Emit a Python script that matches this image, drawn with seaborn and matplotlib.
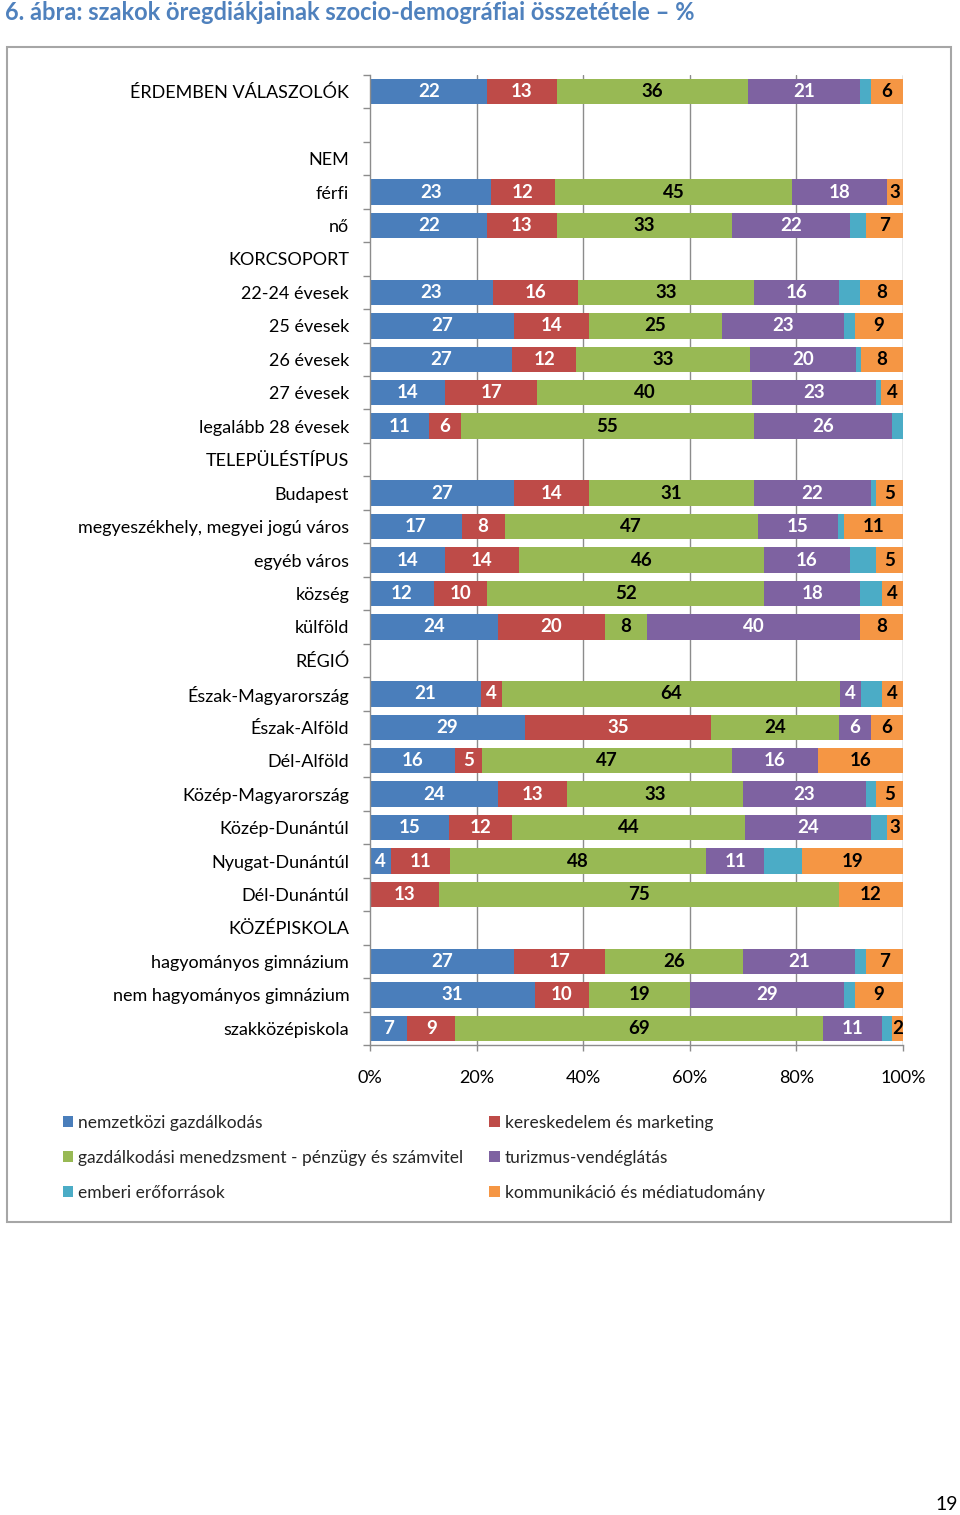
import matplotlib
matplotlib.use("Agg")
import matplotlib.pyplot as plt
import seaborn as sns
import pandas as pd
import numpy as np
from matplotlib.patches import Rectangle, Patch

# row labels (header rows have no data)
categories = ["ÉRDEMBEN VÁLASZOLÓK", " ", "NEM", "férfi", "nő", "KORCSOPORT",
              "22-24 évesek", "25 évesek", "26 évesek", "27 évesek", "legalább 28 évesek",
              "TELEPÜLÉSTÍPUS", "Budapest", "megyeszékhely, megyei jogú város",
              "egyéb város", "község", "külföld", "RÉGIÓ", "Észak-Magyarország",
              "Észak-Alföld", "Dél-Alföld", "Közép-Magyarország", "Közép-Dunántúl",
              "Nyugat-Dunántúl", "Dél-Dunántúl", "KÖZÉPISKOLA", "hagyományos gimnázium",
              "nem hagyományos gimnázium", "szakközépiskola"]

nemzetkozi = [22, 0, 0, 23, 22, 0, 23, 27, 27, 14, 11, 0, 27, 17, 14, 12, 24, 0,
              21, 29, 16, 24, 15, 4, 0, 0, 27, 31, 7]
kereskedelem = [13, 0, 0, 12, 13, 0, 16, 14, 12, 17, 6, 0, 14, 8, 14, 10, 20, 0,
                4, 35, 5, 13, 12, 11, 13, 0, 17, 10, 9]
gazdalkodasi = [36, 0, 0, 45, 33, 0, 33, 25, 33, 40, 55, 0, 31, 47, 46, 52, 8, 0,
                64, 24, 47, 33, 44, 48, 75, 0, 26, 19, 69]
turizmus = [21, 0, 0, 18, 22, 0, 16, 23, 20, 23, 26, 0, 22, 15, 16, 18, 40, 0,
            4, 6, 16, 23, 24, 11, 0, 0, 21, 29, 11]
emberi = [2, 0, 0, 0, 3, 0, 4, 2, 1, 1, 2, 0, 1, 1, 5, 4, 0, 0,
          4, 0, 0, 2, 3, 7, 0, 0, 2, 2, 2]
kommunikacio = [6, 0, 0, 3, 7, 0, 8, 9, 8, 4, 0, 0, 5, 11, 5, 4, 8, 0,
                4, 6, 16, 5, 3, 19, 12, 0, 7, 9, 2]

series_names = ["nemzetközi gazdálkodás", "kereskedelem és marketing",
                "gazdálkodási menedzsment - pénzügy és számvitel", "turizmus-vendéglátás",
                "emberi erőforrások", "kommunikáció és médiatudomány"]
colors = ["#4A7EBB", "#BE4B48", "#98B954", "#7E62A1", "#4BACC6", "#F59644"]
text_colors = ["white", "white", "black", "white", None, "black"]

df = pd.DataFrame({"kategoria": categories,
                   series_names[0]: nemzetkozi, series_names[1]: kereskedelem,
                   series_names[2]: gazdalkodasi, series_names[3]: turizmus,
                   series_names[4]: emberi, series_names[5]: kommunikacio})

vals = df[series_names].to_numpy(dtype=float)
tot = vals.sum(axis=1, keepdims=True)
norm = np.divide(vals, tot, out=np.zeros_like(vals), where=tot > 0) * 100
cum = norm.cumsum(axis=1)

sns.set_theme(style="white")
plt.rcParams['font.family'] = ['Lato', 'DejaVu Sans']

fig = plt.figure(figsize=(9.6, 15.15), dpi=100)
ax = fig.add_axes([370/960, 1-1045/1515, 533/960, 970/1515])

# stacked bars: draw cumulative totals from the last series backwards
for i in range(len(series_names) - 1, -1, -1):
    sns.barplot(x=cum[:, i], y=df["kategoria"], order=categories, color=colors[i],
                saturation=1, width=0.76, errorbar=None, linewidth=0, orient="h", ax=ax)
for p in ax.patches:
    p.set_zorder(2)

# vertical gridlines behind the bars
for t in range(20, 101, 20):
    ax.axvline(t, color="#8c8c8c", linewidth=1, zorder=0.5)

for r in range(len(categories)):
    for i in range(len(series_names)):
        v = vals[r, i]
        if v > 0 and text_colors[i] is not None:
            ax.text(cum[r, i] - norm[r, i] / 2, r, f"{int(v)}", ha="center", va="center",
                    color=text_colors[i], fontsize=13.5, fontweight="bold", zorder=3)

ax.set_xlim(0, 100)
ax.set_ylim(len(categories) - 0.5, -0.5)
ax.set_xlabel("")
ax.set_ylabel("")
ax.grid(False)
ax.set_xticks(range(0, 101, 20))
ax.set_xticklabels([f"{t}%" for t in range(0, 101, 20)])
ax.set_yticks(range(len(categories)))
ax.set_yticklabels(categories)
ax.set_yticks(np.arange(-0.5, len(categories), 1), minor=True)
ax.tick_params(axis="y", which="major", length=0, pad=15, labelsize=13, labelcolor="black")
ax.tick_params(axis="y", which="minor", left=True, length=5, width=1, color="#8c8c8c", direction="out")
ax.tick_params(axis="x", bottom=True, length=4, width=1, color="#8c8c8c", direction="out",
               pad=14, labelsize=13, labelcolor="black")
for s in ["top", "right"]:
    ax.spines[s].set_visible(False)
for s in ["left", "bottom"]:
    ax.spines[s].set_color("#8c8c8c")
    ax.spines[s].set_linewidth(1)

# legend, column-major order to match the two-column layout
order = [0, 2, 4, 1, 3, 5]
handles = [Patch(facecolor=colors[i], edgecolor="none") for i in order]
labels = [series_names[i] for i in order]
fig.legend(handles, labels, ncol=2, loc="upper left", bbox_to_anchor=(47/960, 1-1099/1515),
           frameon=False, fontsize=12.5, handlelength=0.6, handleheight=0.6,
           handletextpad=0.3, columnspacing=1.5, labelspacing=1.1)

fig.add_artist(Rectangle((7/960, 1-1222/1515), 944/960, 1175/1515, transform=fig.transFigure,
                         fill=False, edgecolor="#a6a6a6", linewidth=1.5))
fig.text(5/960, 1-13/1515, "6. ábra: szakok öregdiákjainak szocio-demográfiai összetétele – %",
         ha="left", va="center", color="#4F81BD", fontsize=17, fontweight="bold")
fig.text(958/960, 1-1505/1515, "19", ha="right", va="center", fontsize=14, color="black")

fig.savefig("out.png", dpi=100)
